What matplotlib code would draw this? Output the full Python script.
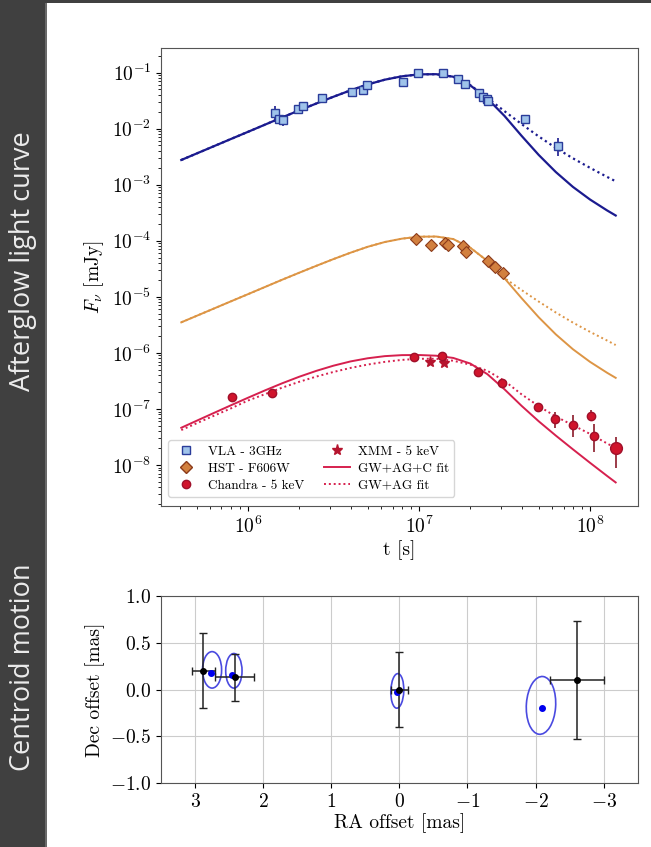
import numpy as np
import matplotlib
matplotlib.use("Agg")
import matplotlib.pyplot as plt
from matplotlib.patches import Rectangle, Ellipse
from matplotlib.lines import Line2D
from matplotlib.ticker import LogLocator, NullFormatter

plt.rcParams["font.family"] = "serif"
plt.rcParams["font.serif"] = ["cmr10", "DejaVu Serif"]
plt.rcParams["mathtext.fontset"] = "cm"
plt.rcParams["axes.formatter.use_mathtext"] = True
plt.rcParams["axes.unicode_minus"] = True

# --- light curve data (t in s, flux in mJy) ---
vla_t = [1.43e6, 1.52e6, 1.60e6, 1.96e6, 2.10e6, 2.72e6, 4.03e6, 4.71e6, 4.95e6,
         8.07e6, 9.89e6, 1.39e7, 1.69e7, 1.86e7, 2.23e7, 2.36e7, 2.49e7, 2.53e7,
         4.15e7, 6.5e7]
vla_f = [0.0187, 0.0148, 0.0142, 0.0226, 0.0256, 0.0347, 0.0444, 0.0488, 0.0607,
         0.0686, 0.098, 0.098, 0.0776, 0.0624, 0.0426, 0.0361, 0.0333, 0.031,
         0.015, 0.0049]
vla_lo = [0.0045, 0.002, 0.0031, 0.002, 0.002, 0.002, 0.003, 0.003, 0.004,
          0.004, 0.005, 0.005, 0.004, 0.004, 0.003, 0.003, 0.003, 0.003,
          0.0015, 0.0017]
vla_hi = [0.0066, 0.002, 0.0033, 0.002, 0.002, 0.002, 0.003, 0.003, 0.004,
          0.004, 0.005, 0.005, 0.004, 0.004, 0.003, 0.003, 0.003, 0.003,
          0.0015, 0.0019]

hst_t = [9.6e6, 1.18e7, 1.42e7, 1.48e7, 1.80e7, 1.88e7, 2.52e7, 2.79e7, 3.11e7]
hst_f = [1.06e-4, 8.3e-5, 9.2e-5, 8.3e-5, 8.1e-5, 6.3e-5, 4.35e-5, 3.36e-5, 2.69e-5]
hst_lo = [1e-5, 8e-6, 9e-6, 8e-6, 1.2e-5, 1.1e-5, 8e-6, 6e-6, 5e-6]

chandra_t = [8.1e5, 1.38e6, 9.33e6, 1.36e7, 2.22e7, 3.06e7, 4.94e7, 6.25e7,
             7.93e7, 1.02e8, 1.05e8, 1.41e8]
chandra_f = [1.65e-7, 1.9e-7, 8.4e-7, 8.7e-7, 4.6e-7, 2.94e-7, 1.07e-7, 6.6e-8,
             5.2e-8, 7.6e-8, 3.3e-8, 2.0e-8]
chandra_lo = [1.0e-8, 1.5e-8, 4e-8, 4e-8, 3e-8, 2e-8, 1.8e-8, 2.1e-8,
              2.0e-8, 1.4e-8, 1.6e-8, 1.1e-8]
chandra_hi = [1.0e-8, 1.5e-8, 4e-8, 4e-8, 3e-8, 2e-8, 1.9e-8, 2.3e-8,
              2.6e-8, 2.0e-8, 2.2e-8, 1.1e-8]

xmm_t = [1.16e7, 1.40e7]
xmm_f = [6.95e-7, 6.5e-7]

# fit curves, as log10(t) and log10(F)
fit_logt = [5.61, 5.7, 5.8, 5.9, 6.0, 6.1, 6.2, 6.3, 6.4, 6.5, 6.6, 6.7, 6.8,
            6.9, 7.0, 7.1, 7.2, 7.3, 7.4, 7.5, 7.6, 7.7, 7.8, 7.9, 8.0, 8.1, 8.15]
vla_fit_c = [-2.560, -2.444, -2.315, -2.186, -2.058, -1.929, -1.800, -1.675,
             -1.552, -1.432, -1.318, -1.213, -1.128, -1.068, -1.033, -1.030,
             -1.075, -1.230, -1.465, -1.775, -2.130, -2.470, -2.775, -3.040,
             -3.265, -3.460, -3.550]
vla_fit = [-2.560, -2.444, -2.315, -2.186, -2.058, -1.929, -1.800, -1.675,
           -1.552, -1.432, -1.318, -1.213, -1.128, -1.068, -1.033, -1.030,
           -1.075, -1.225, -1.455, -1.690, -1.920, -2.140, -2.345, -2.530,
           -2.700, -2.862, -2.940]
hst_fit_c = [-5.455, -5.339, -5.210, -5.081, -4.953, -4.824, -4.695, -4.570,
             -4.447, -4.327, -4.213, -4.108, -4.023, -3.963, -3.928, -3.925,
             -3.970, -4.125, -4.360, -4.670, -5.025, -5.365, -5.670, -5.935,
             -6.160, -6.355, -6.445]
hst_fit = [-5.455, -5.339, -5.210, -5.081, -4.953, -4.824, -4.695, -4.570,
           -4.447, -4.327, -4.213, -4.108, -4.023, -3.963, -3.928, -3.925,
           -3.970, -4.125, -4.360, -4.665, -4.880, -5.085, -5.280, -5.460,
           -5.625, -5.780, -5.860]
ch_fit_c = [-7.335, -7.210, -7.072, -6.935, -6.800, -6.668, -6.542, -6.425,
            -6.320, -6.228, -6.152, -6.096, -6.058, -6.040, -6.038, -6.050,
            -6.090, -6.190, -6.380, -6.650, -6.945, -7.220, -7.475, -7.720,
            -7.960, -8.195, -8.310]
ch_fit = [-7.376, -7.255, -7.122, -6.990, -6.850, -6.735, -6.620, -6.515,
          -6.422, -6.340, -6.268, -6.208, -6.160, -6.125, -6.105, -6.105,
          -6.140, -6.210, -6.320, -6.500, -6.740, -6.950, -7.135, -7.290,
          -7.445, -7.615, -7.700]

# --- centroid data (mas) ---
vlbi_ra = [2.88, 2.42, 0.0, -2.61]
vlbi_dec = [0.20, 0.13, 0.0, 0.10]
vlbi_ra_err = [0.17, 0.29, 0.12, 0.40]
vlbi_dec_err = [0.40, 0.25, 0.40, 0.63]
model_ra = [2.76, 2.46, 0.03, -2.09]
model_dec = [0.18, 0.16, -0.03, -0.20]
cont_ra = [2.75, 2.43, 0.03, -2.08]
cont_dec = [0.21, 0.20, -0.015, -0.17]
cont_w = [0.28, 0.24, 0.19, 0.43]
cont_h = [0.39, 0.37, 0.37, 0.62]
cont_ang = [0, 0, 3, 6]

navy = "#1b1b8f"
orange = "#dd9545"
crimson = "#d6204e"
dots = (0, (1, 1.5))

fig = plt.figure(figsize=(6.51, 8.47), dpi=100)

# side bar
fig.patches.append(Rectangle((0, 0), 45 / 651, 1, transform=fig.transFigure,
                             facecolor="#404040", edgecolor="none", zorder=0))
fig.patches.append(Rectangle((45 / 651, 0), 2 / 651, 1, transform=fig.transFigure,
                             facecolor="#6a6a6a", edgecolor="none", zorder=0))
fig.patches.append(Rectangle((0, 1 - 3 / 847), 1, 3 / 847, transform=fig.transFigure,
                             facecolor="#404040", edgecolor="none", zorder=0))
fig.text(23 / 651, 1 - 261 / 847, "Afterglow light curve", rotation=90,
         ha="center", va="center", color="#ececec", family="Open Sans", fontsize=19.5)
fig.text(23 / 651, 1 - 667 / 847, "Centroid motion", rotation=90,
         ha="center", va="center", color="#ececec", family="Open Sans", fontsize=19.5)

# --- top panel ---
ax = fig.add_axes([161 / 651, 1 - 506 / 847, 476.7 / 651, 457.5 / 847])
ax.set_xscale("log")
ax.set_yscale("log")

t_fit = 10 ** np.array(fit_logt)
ax.plot(t_fit, 10 ** np.array(vla_fit), color=navy, lw=1.6, ls=dots)
ax.plot(t_fit, 10 ** np.array(vla_fit_c), color=navy, lw=1.6)
ax.plot(t_fit, 10 ** np.array(hst_fit), color=orange, lw=1.4, ls=dots)
ax.plot(t_fit, 10 ** np.array(hst_fit_c), color=orange, lw=1.4)
ax.plot(t_fit, 10 ** np.array(ch_fit), color=crimson, lw=1.4, ls=dots)
ax.plot(t_fit, 10 ** np.array(ch_fit_c), color=crimson, lw=1.4)

ax.errorbar(vla_t, vla_f, yerr=[vla_lo, vla_hi], fmt="s", ms=6.2, mfc="#9fc3ea",
            mec="#2a3c9a", mew=1, ecolor=navy, elinewidth=1.2, capsize=0)
ax.errorbar(hst_t, hst_f, yerr=[hst_lo, [0] * len(hst_f)], fmt="D", ms=6.5,
            mfc="#d2803f", mec="#8b3a1a", mew=0.8, ecolor="#8b3a1a",
            elinewidth=1, capsize=0)
ax.errorbar(chandra_t[:-1], chandra_f[:-1], yerr=[chandra_lo[:-1], chandra_hi[:-1]],
            fmt="o", ms=6, mfc="#d0142c", mec="#a0102a", ecolor="#8b1a2a",
            elinewidth=1.2, capsize=0)
ax.errorbar(chandra_t[-1:], chandra_f[-1:], yerr=[chandra_lo[-1:], chandra_hi[-1:]],
            fmt="o", ms=8.5, mfc="#d0142c", mec="#a0102a", ecolor="#8b1a2a",
            elinewidth=1.2, capsize=0)
ax.plot(xmm_t, xmm_f, "*", ms=8, color="#b5142e", ls="none")

ax.set_xlim(3.1e5, 1.9e8)
ax.set_ylim(1.86e-9, 0.268)
ax.yaxis.set_major_locator(LogLocator(base=10, numticks=20))
ax.yaxis.set_minor_locator(LogLocator(base=10, subs=np.arange(2, 10), numticks=20))
ax.yaxis.set_minor_formatter(NullFormatter())
ax.set_yticks([1e-8, 1e-7, 1e-6, 1e-5, 1e-4, 1e-3, 1e-2, 1e-1])
ax.set_xticks([1e6, 1e7, 1e8])
ax.tick_params(labelsize=14)
ax.set_xlabel("t [s]", fontsize=14, labelpad=2)
ax.set_ylabel(r"$F_\nu$ [mJy]", fontsize=14, labelpad=4)
for s in ax.spines.values():
    s.set_color("#555555")

handles = [
    Line2D([], [], marker="s", ls="none", ms=6, mfc="#9fc3ea", mec="#2a3c9a"),
    Line2D([], [], marker="D", ls="none", ms=6.5, mfc="#d2803f", mec="#8b3a1a"),
    Line2D([], [], marker="o", ls="none", ms=6, mfc="#d0142c", mec="#a0102a"),
    Line2D([], [], marker="*", ls="none", ms=8, color="#b5142e"),
    Line2D([], [], color=crimson, lw=1.4),
    Line2D([], [], color=crimson, lw=1.4, ls=dots),
]
labels = ["VLA - 3GHz", "HST - F606W", "Chandra - 5 keV", "XMM - 5 keV",
          "GW+AG+C fit", "GW+AG fit"]
ax.legend(handles, labels, ncol=2, loc="lower left", fontsize=9.5,
          frameon=True, fancybox=True, edgecolor="#cccccc",
          borderaxespad=0.35, columnspacing=1.5, handletextpad=0.6,
          labelspacing=0.35, bbox_to_anchor=(0.005, 0.01))

# --- bottom panel ---
ax2 = fig.add_axes([161 / 651, 1 - 783 / 847, 476.7 / 651, 187 / 847])
ax2.grid(True, color="#cccccc", lw=0.8)
ax2.set_axisbelow(True)
for cx, cy, w, h, a in zip(cont_ra, cont_dec, cont_w, cont_h, cont_ang):
    ax2.add_patch(Ellipse((cx, cy), w, h, angle=a, fill=False,
                          edgecolor="#4a4ae0", lw=1.2))
ax2.errorbar(vlbi_ra, vlbi_dec, xerr=vlbi_ra_err, yerr=vlbi_dec_err, fmt="o",
             ms=4, color="black", ecolor="#222222", elinewidth=1.1, capsize=3,
             capthick=1)
ax2.plot(model_ra, model_dec, "o", ms=4, color="#0000ee")
ax2.set_xlim(3.5, -3.5)
ax2.set_ylim(-1.0, 1.0)
ax2.set_xticks([3, 2, 1, 0, -1, -2, -3])
ax2.set_yticks([-1.0, -0.5, 0.0, 0.5, 1.0])
ax2.set_yticklabels(["$-1.0$", "$-0.5$", "$0.0$", "$0.5$", "$1.0$"])
ax2.set_xticklabels(["$3$", "$2$", "$1$", "$0$", "$-1$", "$-2$", "$-3$"])
ax2.tick_params(labelsize=14)
ax2.set_xlabel("RA offset [mas]", fontsize=14, labelpad=2)
ax2.set_ylabel("Dec offset [mas]", fontsize=14, labelpad=4)
for s in ax2.spines.values():
    s.set_color("#555555")

fig.savefig("out.png", dpi=100)
